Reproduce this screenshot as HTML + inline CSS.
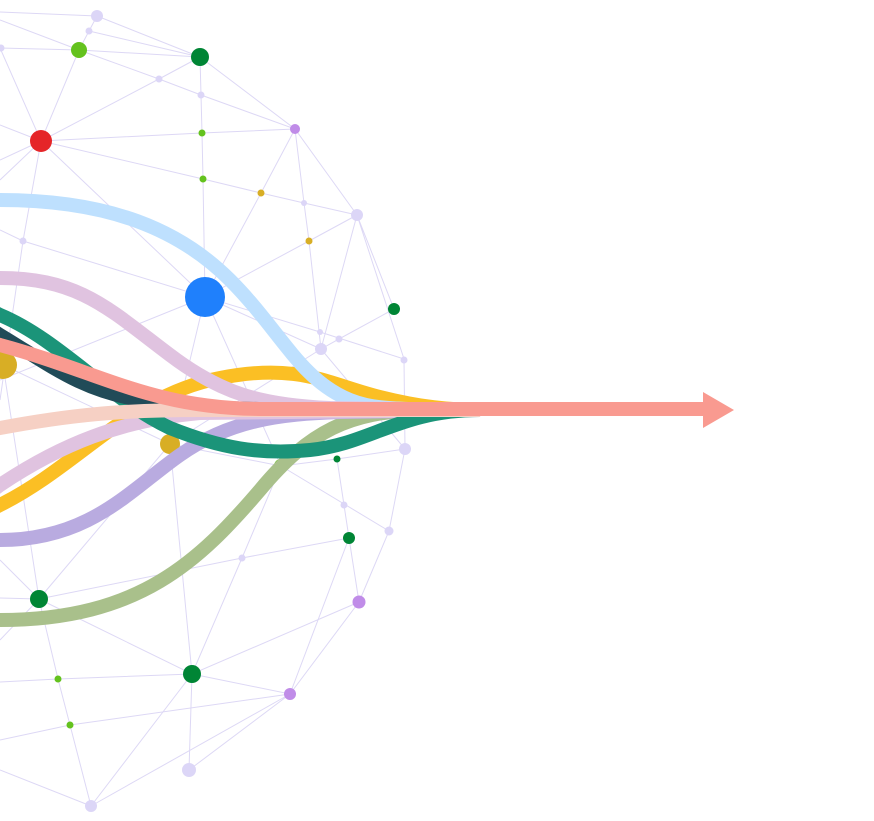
<!DOCTYPE html>
<html><head><meta charset="utf-8"><style>html,body{margin:0;padding:0;background:#fff;}svg{display:block}</style></head>
<body>
<svg width="874" height="821" viewBox="0 0 874 821" xmlns="http://www.w3.org/2000/svg">
<g stroke="#ddd8f5" stroke-width="1" fill="none">
<path d="M0,12 L97,16 L200,57 M89,31 L200,57 M0,20 L79,50 M89,31 L79,50 M97,16 L89,31 M0,48 L79,50 L200,57 M79,50 L159,79 L201,95 L295,129 M159,79 L200,57 M200,57 L201,95 L202,133 L203,179 L205,297 M200,57 L295,129 L357,215 M0,48 L41,141 L79,50 M41,141 L159,79 M41,141 L202,133 L295,129 M41,141 L203,179 L261,193 L304,203 L357,215 M41,141 L205,297 M0,125 L41,141 M0,160 L41,141 M0,180 L41,141 L23,241 L0,400 M295,129 L261,193 L205,297 M295,129 L304,203 L309,241 L321,349 M357,215 L309,241 L205,297 M357,215 L321,349 M357,215 L394,309 M357,215 L404,359 L405,449 M0,230 L23,241 L205,297 L320,332 L404,359 M205,297 L321,349 M205,297 L0,380 M205,297 L170,444 M205,297 L281,466 M394,309 L339,339 L321,349 M321,349 L405,449 M321,349 L170,444 M3,365 L170,444 L281,466 L337,459 L405,449 M3,365 L39,599 M170,444 L192,674 M170,444 L39,599 M281,466 L389,531 M281,466 L242,558 L192,674 M337,459 L344,505 L349,538 L359,602 M405,449 L389,531 L359,602 M349,538 L242,558 L39,599 M349,538 L290,694 M0,560 L39,599 L0,640 M0,598 L39,599 L58,679 L70,725 L91,806 M39,599 L192,674 L359,602 M192,674 L290,694 L359,602 M0,682 L58,679 L192,674 M192,674 L189,770 M192,674 L91,806 L290,694 L189,770 M0,740 L70,725 L290,694 M0,770 L91,806"/>
</g>
<g>
<circle cx="97" cy="16" r="6" fill="#dcd6f7"/><circle cx="89" cy="31" r="3.5" fill="#dcd6f7"/><circle cx="1" cy="48" r="3.5" fill="#dcd6f7"/>
<circle cx="79" cy="50" r="8" fill="#64c21e"/><circle cx="200" cy="57" r="9" fill="#008535"/>
<circle cx="159" cy="79" r="3.5" fill="#dcd6f7"/><circle cx="201" cy="95" r="3.5" fill="#dcd6f7"/>
<circle cx="41" cy="141" r="11" fill="#e52528"/><circle cx="202" cy="133" r="3.5" fill="#64c21e"/>
<circle cx="295" cy="129" r="5" fill="#c08ce8"/><circle cx="203" cy="179" r="3.5" fill="#64c21e"/>
<circle cx="261" cy="193" r="3.5" fill="#d8ae25"/><circle cx="304" cy="203" r="3" fill="#dcd6f7"/>
<circle cx="357" cy="215" r="6" fill="#dcd6f7"/><circle cx="23" cy="241" r="3.5" fill="#dcd6f7"/>
<circle cx="309" cy="241" r="3.5" fill="#d8ae25"/><circle cx="394" cy="309" r="6" fill="#008535"/>
<circle cx="320" cy="332" r="3" fill="#dcd6f7"/><circle cx="339" cy="339" r="3.5" fill="#dcd6f7"/>
<circle cx="321" cy="349" r="6" fill="#dcd6f7"/><circle cx="404" cy="360" r="3.5" fill="#dcd6f7"/>
<circle cx="3" cy="365" r="14" fill="#d8ae25"/><circle cx="170" cy="444" r="10" fill="#d8ae25"/>
<circle cx="405" cy="449" r="6" fill="#dcd6f7"/><circle cx="281" cy="466" r="7" fill="#64c21e"/>
<circle cx="337" cy="459" r="3.5" fill="#008535"/><circle cx="344" cy="505" r="3.5" fill="#dcd6f7"/>
<circle cx="389" cy="531" r="4.5" fill="#dcd6f7"/><circle cx="349" cy="538" r="6" fill="#008535"/>
<circle cx="242" cy="558" r="3.5" fill="#dcd6f7"/><circle cx="359" cy="602" r="6.5" fill="#c08ce8"/>
<circle cx="39" cy="599" r="9" fill="#008535"/>
<circle cx="192" cy="674" r="9" fill="#008535"/><circle cx="58" cy="679" r="3.5" fill="#64c21e"/>
<circle cx="290" cy="694" r="6" fill="#c08ce8"/><circle cx="70" cy="725" r="3.5" fill="#64c21e"/>
<circle cx="189" cy="770" r="7" fill="#dcd6f7"/><circle cx="91" cy="806" r="6" fill="#dcd6f7"/>
<circle cx="205" cy="297" r="20" fill="#1f80fc"/>
</g>
<g fill="none" stroke-width="14">
<path stroke="#a9c08b" d="M-30,620 L0,620 C140,620 200,560 260,490 C310,430 350,412 420,410 L480,410"/>
<path stroke="#b9abe0" d="M-30,540 L0,540 C90,540 130,490 180,455 C230,420 280,414 340,412 L480,410"/>
<path stroke="#fbbf24" d="M-40,525 L0,505 C80,465 130,395 220,378 C300,362 330,385 380,397 C420,407 450,410 480,410"/>
<path stroke="#bee0fe" d="M-30,200 L0,200 C110,200 180,230 230,280 C280,330 300,380 350,400 C370,408 390,410 480,410"/>
<path stroke="#e0c3e0" d="M-30,278 L0,278 C80,278 110,310 170,355 C220,393 260,405 330,408 L480,410"/>
<path stroke="#e0c3e0" d="M-40,515 L0,485 C60,445 120,420 200,413 L480,410"/>
<path stroke="#1b9479" d="M-40,295 L0,315 C60,340 110,400 170,428 C220,448 260,455 310,450 C370,444 400,410 480,410"/>
<path stroke="#214b58" d="M-40,310 L0,335 C50,365 80,390 140,400 C200,410 250,410 480,410"/>
<path stroke="#f6d0c4" d="M-40,436 L0,428 C70,415 120,410 200,410 L480,410"/>
<path stroke="#f99a90" d="M-40,333 L0,345 C100,372 150,408 260,409 L706,409"/>
</g>
<polygon points="703,392 734,410 703,428" fill="#f99a90"/>
</svg>
</body></html>
